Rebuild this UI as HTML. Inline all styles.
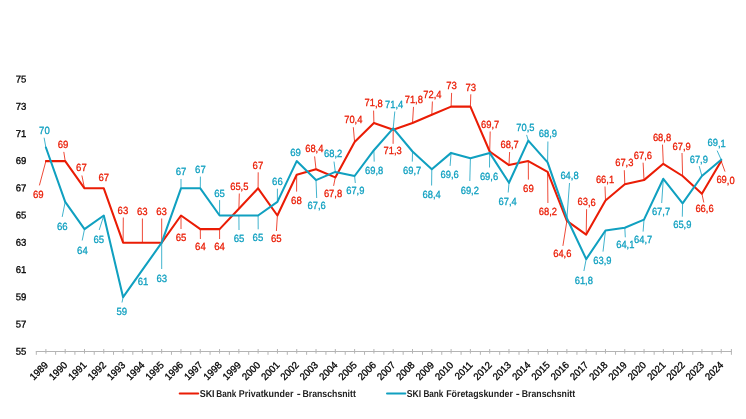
<!DOCTYPE html>
<html><head><meta charset="utf-8"><title>SKI Bank</title>
<style>html,body{margin:0;padding:0;background:#fff}svg{display:block}text{font-family:"Liberation Sans",Arial,sans-serif;text-rendering:geometricPrecision}</style></head><body>
<svg width="746" height="419" viewBox="0 0 746 419">
<rect width="746" height="419" fill="#fff"/>
<g stroke="#b4b4b4" stroke-width="1" fill="none">
<path d="M35.8 351.5H731.9"/>
<path d="M36.30 351.5V354.8M55.61 351.5V354.8M74.92 351.5V354.8M94.22 351.5V354.8M113.53 351.5V354.8M132.84 351.5V354.8M152.15 351.5V354.8M171.46 351.5V354.8M190.77 351.5V354.8M210.07 351.5V354.8M229.38 351.5V354.8M248.69 351.5V354.8M268.00 351.5V354.8M287.31 351.5V354.8M306.62 351.5V354.8M325.93 351.5V354.8M345.23 351.5V354.8M364.54 351.5V354.8M383.85 351.5V354.8M403.16 351.5V354.8M422.47 351.5V354.8M441.78 351.5V354.8M461.08 351.5V354.8M480.39 351.5V354.8M499.70 351.5V354.8M519.01 351.5V354.8M538.32 351.5V354.8M557.62 351.5V354.8M576.93 351.5V354.8M596.24 351.5V354.8M615.55 351.5V354.8M634.86 351.5V354.8M654.17 351.5V354.8M673.47 351.5V354.8M692.78 351.5V354.8M712.09 351.5V354.8M731.40 351.5V354.8M45.90 349.0V353.6M65.19 349.0V353.6M84.49 349.0V353.6M103.78 349.0V353.6M123.08 349.0V353.6M142.38 349.0V353.6M161.67 349.0V353.6M180.97 349.0V353.6M200.26 349.0V353.6M219.56 349.0V353.6M238.85 349.0V353.6M258.14 349.0V353.6M277.44 349.0V353.6M296.74 349.0V353.6M316.03 349.0V353.6M335.32 349.0V353.6M354.62 349.0V353.6M373.92 349.0V353.6M393.21 349.0V353.6M412.50 349.0V353.6M431.80 349.0V353.6M451.10 349.0V353.6M470.39 349.0V353.6M489.69 349.0V353.6M508.98 349.0V353.6M528.28 349.0V353.6M547.57 349.0V353.6M566.87 349.0V353.6M586.16 349.0V353.6M605.46 349.0V353.6M624.75 349.0V353.6M644.05 349.0V353.6M663.34 349.0V353.6M682.63 349.0V353.6M701.93 349.0V353.6M721.23 349.0V353.6M731.40 349V351.5"/></g>
<g font-size="9.95" fill="#000" stroke="#000" stroke-width="0.3" text-anchor="end">
<text transform="translate(26.4 354.65) rotate(0.03) scale(0.96 1)">55</text>
<text transform="translate(26.4 327.43) rotate(0.03) scale(0.96 1)">57</text>
<text transform="translate(26.4 300.21) rotate(0.03) scale(0.96 1)">59</text>
<text transform="translate(26.4 272.99) rotate(0.03) scale(0.96 1)">61</text>
<text transform="translate(26.4 245.77) rotate(0.03) scale(0.96 1)">63</text>
<text transform="translate(26.4 218.55) rotate(0.03) scale(0.96 1)">65</text>
<text transform="translate(26.4 191.33) rotate(0.03) scale(0.96 1)">67</text>
<text transform="translate(26.4 164.11) rotate(0.03) scale(0.96 1)">69</text>
<text transform="translate(26.4 136.89) rotate(0.03) scale(0.96 1)">71</text>
<text transform="translate(26.4 109.67) rotate(0.03) scale(0.96 1)">73</text>
<text transform="translate(26.4 82.45) rotate(0.03) scale(0.96 1)">75</text>
</g>
<g font-size="9.95" fill="#000" stroke="#000" stroke-width="0.3" text-anchor="end">
<text transform="translate(46.3 363.3) rotate(-45) scale(0.96 1)" x="0" y="3.5">1989</text>
<text transform="translate(65.6 363.3) rotate(-45) scale(0.96 1)" x="0" y="3.5">1990</text>
<text transform="translate(84.9 363.3) rotate(-45) scale(0.96 1)" x="0" y="3.5">1991</text>
<text transform="translate(104.2 363.3) rotate(-45) scale(0.96 1)" x="0" y="3.5">1992</text>
<text transform="translate(123.5 363.3) rotate(-45) scale(0.96 1)" x="0" y="3.5">1993</text>
<text transform="translate(142.8 363.3) rotate(-45) scale(0.96 1)" x="0" y="3.5">1994</text>
<text transform="translate(162.1 363.3) rotate(-45) scale(0.96 1)" x="0" y="3.5">1995</text>
<text transform="translate(181.4 363.3) rotate(-45) scale(0.96 1)" x="0" y="3.5">1996</text>
<text transform="translate(200.7 363.3) rotate(-45) scale(0.96 1)" x="0" y="3.5">1997</text>
<text transform="translate(220.0 363.3) rotate(-45) scale(0.96 1)" x="0" y="3.5">1998</text>
<text transform="translate(239.3 363.3) rotate(-45) scale(0.96 1)" x="0" y="3.5">1999</text>
<text transform="translate(258.5 363.3) rotate(-45) scale(0.96 1)" x="0" y="3.5">2000</text>
<text transform="translate(277.8 363.3) rotate(-45) scale(0.96 1)" x="0" y="3.5">2001</text>
<text transform="translate(297.1 363.3) rotate(-45) scale(0.96 1)" x="0" y="3.5">2002</text>
<text transform="translate(316.4 363.3) rotate(-45) scale(0.96 1)" x="0" y="3.5">2003</text>
<text transform="translate(335.7 363.3) rotate(-45) scale(0.96 1)" x="0" y="3.5">2004</text>
<text transform="translate(355.0 363.3) rotate(-45) scale(0.96 1)" x="0" y="3.5">2005</text>
<text transform="translate(374.3 363.3) rotate(-45) scale(0.96 1)" x="0" y="3.5">2006</text>
<text transform="translate(393.6 363.3) rotate(-45) scale(0.96 1)" x="0" y="3.5">2007</text>
<text transform="translate(412.9 363.3) rotate(-45) scale(0.96 1)" x="0" y="3.5">2008</text>
<text transform="translate(432.2 363.3) rotate(-45) scale(0.96 1)" x="0" y="3.5">2009</text>
<text transform="translate(451.5 363.3) rotate(-45) scale(0.96 1)" x="0" y="3.5">2010</text>
<text transform="translate(470.8 363.3) rotate(-45) scale(0.96 1)" x="0" y="3.5">2011</text>
<text transform="translate(490.1 363.3) rotate(-45) scale(0.96 1)" x="0" y="3.5">2012</text>
<text transform="translate(509.4 363.3) rotate(-45) scale(0.96 1)" x="0" y="3.5">2013</text>
<text transform="translate(528.7 363.3) rotate(-45) scale(0.96 1)" x="0" y="3.5">2014</text>
<text transform="translate(548.0 363.3) rotate(-45) scale(0.96 1)" x="0" y="3.5">2015</text>
<text transform="translate(567.3 363.3) rotate(-45) scale(0.96 1)" x="0" y="3.5">2016</text>
<text transform="translate(586.6 363.3) rotate(-45) scale(0.96 1)" x="0" y="3.5">2017</text>
<text transform="translate(605.9 363.3) rotate(-45) scale(0.96 1)" x="0" y="3.5">2018</text>
<text transform="translate(625.1 363.3) rotate(-45) scale(0.96 1)" x="0" y="3.5">2019</text>
<text transform="translate(644.4 363.3) rotate(-45) scale(0.96 1)" x="0" y="3.5">2020</text>
<text transform="translate(663.7 363.3) rotate(-45) scale(0.96 1)" x="0" y="3.5">2021</text>
<text transform="translate(683.0 363.3) rotate(-45) scale(0.96 1)" x="0" y="3.5">2022</text>
<text transform="translate(702.3 363.3) rotate(-45) scale(0.96 1)" x="0" y="3.5">2023</text>
<text transform="translate(721.6 363.3) rotate(-45) scale(0.96 1)" x="0" y="3.5">2024</text>
</g>
<path d="M45.9 161.1L39.4 185.4M65.2 161.1L63.8 151.9M84.5 188.3L81.9 175.5M123.1 242.7L123.3 217.5M142.4 242.7L142.4 218.5M161.7 242.7L161.7 218.5M181.0 215.5L181 229M200.3 229.1L200.4 239M219.6 229.1L219.6 239M238.9 208.7L239.3 193.5M258.1 188.3L258.2 172.3M277.4 215.5L276.4 231M296.7 174.7L296.6 191.6M316.0 169.2L314.6 156.4M335.3 177.4L333.6 185.9M354.6 142.0L353.3 127.2M373.9 123.0L373.6 110.6M393.2 129.8L393.1 143.8M412.5 123.0L413.5 106.9M431.8 114.8L432.4 101.5M451.1 106.6L451.6 92.9M470.4 106.6L470.8 94.3M489.7 151.5L490.2 131.5M509.0 165.1L509.6 152M528.3 161.1L528.4 179.6M547.6 171.9L547.9 203M566.9 220.9L562.9 245.9M586.2 234.6L586.6 209.2M605.5 200.5L605 186.5M624.8 184.2L624.3 170.2M644.0 180.1L643.1 162.7M663.3 163.8L662.5 144.6M682.6 176.0L682 153M701.9 193.7L703.8 202.5M721.2 161.1L725 171.6" stroke="#ea1c05" stroke-width="0.8" fill="none"/>
<path d="M45.9 147.5L44.1 137.7M65.2 201.9L62.2 216.9M84.5 229.1L82.2 240.5M103.8 215.5L99.2 230M123.1 297.2L122 302.5M161.7 242.7L161.7 269M181.0 188.3L181 179M200.3 188.3L200.4 176.6M219.6 215.5L219.6 200.1M238.9 215.5L239 230M258.1 215.5L258.2 229.3M277.4 201.9L277.4 188.7M316.0 180.1L316.7 198M335.3 171.9L334.0 161.6M354.6 176.0L355.3 183M373.9 150.2L374.2 161.6M393.2 128.4L394.8 111.5M412.5 151.5L412.3 161.6M431.8 169.2L431.6 185.5M451.1 152.9L450.1 165.9M470.4 158.3L469.8 181M489.7 152.9L489.5 167.5M509.0 182.8L508.2 192.5M528.3 140.6L526.6 134.9M547.6 162.4L547.9 141.5M566.9 218.2L569.5 183M586.2 259.1L583.9 271M605.5 230.5L603 251.6M624.8 227.7L625.3 237.3M644.0 219.6L643.1 231.6M663.3 178.8L661.7 203M682.6 203.3L682.3 216.7M701.9 176.0L699.2 166.1M721.2 159.7L717.1 150.6" stroke="#10a0c0" stroke-width="0.8" fill="none"/>
<polyline points="45.9,161.1 65.2,161.1 84.5,188.3 103.8,188.3 123.1,242.7 142.4,242.7 161.7,242.7 181.0,215.5 200.3,229.1 219.6,229.1 238.9,208.7 258.1,188.3 277.4,215.5 296.7,174.7 316.0,169.2 335.3,177.4 354.6,142.0 373.9,123.0 393.2,129.8 412.5,123.0 431.8,114.8 451.1,106.6 470.4,106.6 489.7,151.5 509.0,165.1 528.3,161.1 547.6,171.9 566.9,220.9 586.2,234.6 605.5,200.5 624.8,184.2 644.0,180.1 663.3,163.8 682.6,176.0 701.9,193.7 721.2,161.1" stroke="#ea1c05" stroke-width="2.05" fill="none" stroke-linejoin="round" stroke-linecap="round"/>
<polyline points="45.9,147.5 65.2,201.9 84.5,229.1 103.8,215.5 123.1,297.2 142.4,269.9 161.7,242.7 181.0,188.3 200.3,188.3 219.6,215.5 238.9,215.5 258.1,215.5 277.4,201.9 296.7,161.1 316.0,180.1 335.3,171.9 354.6,176.0 373.9,150.2 393.2,128.4 412.5,151.5 431.8,169.2 451.1,152.9 470.4,158.3 489.7,152.9 509.0,182.8 528.3,140.6 547.6,162.4 566.9,218.2 586.2,259.1 605.5,230.5 624.8,227.7 644.0,219.6 663.3,178.8 682.6,203.3 701.9,176.0 721.2,159.7" stroke="#10a0c0" stroke-width="2.05" fill="none" stroke-linejoin="round" stroke-linecap="round"/>
<g font-size="10.4" fill="#ea1c05" stroke="#ea1c05" stroke-width="0.3" text-anchor="middle">
<text transform="translate(38.3 198.00) rotate(0.03) scale(0.92 1)">69</text>
<text transform="translate(63 148.40) rotate(0.03) scale(0.92 1)">69</text>
<text transform="translate(81.4 171.40) rotate(0.03) scale(0.92 1)">67</text>
<text transform="translate(103.7 181.40) rotate(0.03) scale(0.92 1)">67</text>
<text transform="translate(122.9 213.70) rotate(0.03) scale(0.92 1)">63</text>
<text transform="translate(142.3 215.00) rotate(0.03) scale(0.92 1)">63</text>
<text transform="translate(161.6 215.00) rotate(0.03) scale(0.92 1)">63</text>
<text transform="translate(181 240.80) rotate(0.03) scale(0.92 1)">65</text>
<text transform="translate(200.4 250.40) rotate(0.03) scale(0.92 1)">64</text>
<text transform="translate(219.6 250.40) rotate(0.03) scale(0.92 1)">64</text>
<text transform="translate(239.3 190.30) rotate(0.03) scale(0.9 1)">65,5</text>
<text transform="translate(257.9 168.80) rotate(0.03) scale(0.92 1)">67</text>
<text transform="translate(276.3 241.80) rotate(0.03) scale(0.92 1)">65</text>
<text transform="translate(296.4 204.00) rotate(0.03) scale(0.92 1)">68</text>
<text transform="translate(314.3 152.30) rotate(0.03) scale(0.9 1)">68,4</text>
<text transform="translate(333 196.70) rotate(0.03) scale(0.9 1)">67,8</text>
<text transform="translate(353.3 123.40) rotate(0.03) scale(0.9 1)">70,4</text>
<text transform="translate(373.6 106.50) rotate(0.03) scale(0.9 1)">71,8</text>
<text transform="translate(392.7 153.90) rotate(0.03) scale(0.9 1)">71,3</text>
<text transform="translate(413.8 103.00) rotate(0.03) scale(0.9 1)">71,8</text>
<text transform="translate(432.4 97.90) rotate(0.03) scale(0.9 1)">72,4</text>
<text transform="translate(451.6 89.30) rotate(0.03) scale(0.92 1)">73</text>
<text transform="translate(470.8 90.80) rotate(0.03) scale(0.92 1)">73</text>
<text transform="translate(490.2 127.90) rotate(0.03) scale(0.9 1)">69,7</text>
<text transform="translate(509.6 148.30) rotate(0.03) scale(0.9 1)">68,7</text>
<text transform="translate(528.4 191.80) rotate(0.03) scale(0.92 1)">69</text>
<text transform="translate(547.9 214.70) rotate(0.03) scale(0.9 1)">68,2</text>
<text transform="translate(562.3 257.20) rotate(0.03) scale(0.9 1)">64,6</text>
<text transform="translate(586.6 205.50) rotate(0.03) scale(0.9 1)">63,6</text>
<text transform="translate(605 182.60) rotate(0.03) scale(0.9 1)">66,1</text>
<text transform="translate(624.3 166.00) rotate(0.03) scale(0.9 1)">67,3</text>
<text transform="translate(642.9 159.10) rotate(0.03) scale(0.9 1)">67,6</text>
<text transform="translate(662 140.60) rotate(0.03) scale(0.9 1)">68,8</text>
<text transform="translate(681.6 149.90) rotate(0.03) scale(0.9 1)">67,9</text>
<text transform="translate(704.5 212.10) rotate(0.03) scale(0.9 1)">66,6</text>
<text transform="translate(725.5 183.50) rotate(0.03) scale(0.9 1)">69,0</text>
</g>
<g font-size="10.4" fill="#10a0c0" stroke="#10a0c0" stroke-width="0.3" text-anchor="middle">
<text transform="translate(44.4 133.70) rotate(0.03) scale(0.92 1)">70</text>
<text transform="translate(62.2 230.50) rotate(0.03) scale(0.92 1)">66</text>
<text transform="translate(82.4 253.60) rotate(0.03) scale(0.92 1)">64</text>
<text transform="translate(98.7 243.10) rotate(0.03) scale(0.92 1)">65</text>
<text transform="translate(121.8 315.00) rotate(0.03) scale(0.92 1)">59</text>
<text transform="translate(143 284.80) rotate(0.03) scale(0.92 1)">61</text>
<text transform="translate(161.7 281.70) rotate(0.03) scale(0.92 1)">63</text>
<text transform="translate(181 175.10) rotate(0.03) scale(0.92 1)">67</text>
<text transform="translate(200.4 173.40) rotate(0.03) scale(0.92 1)">67</text>
<text transform="translate(219.6 197.10) rotate(0.03) scale(0.92 1)">65</text>
<text transform="translate(239 241.80) rotate(0.03) scale(0.92 1)">65</text>
<text transform="translate(257.9 241.50) rotate(0.03) scale(0.92 1)">65</text>
<text transform="translate(277.4 184.80) rotate(0.03) scale(0.92 1)">66</text>
<text transform="translate(295.6 156.00) rotate(0.03) scale(0.92 1)">69</text>
<text transform="translate(316.7 209.30) rotate(0.03) scale(0.9 1)">67,6</text>
<text transform="translate(333.2 157.20) rotate(0.03) scale(0.9 1)">68,2</text>
<text transform="translate(355.3 194.40) rotate(0.03) scale(0.9 1)">67,9</text>
<text transform="translate(374.2 174.00) rotate(0.03) scale(0.9 1)">69,8</text>
<text transform="translate(394.2 107.60) rotate(0.03) scale(0.9 1)">71,4</text>
<text transform="translate(412.2 174.20) rotate(0.03) scale(0.9 1)">69,7</text>
<text transform="translate(431.6 198.00) rotate(0.03) scale(0.9 1)">68,4</text>
<text transform="translate(449.6 178.40) rotate(0.03) scale(0.9 1)">69,6</text>
<text transform="translate(469.8 193.60) rotate(0.03) scale(0.9 1)">69,2</text>
<text transform="translate(489 179.80) rotate(0.03) scale(0.9 1)">69,6</text>
<text transform="translate(507.7 204.60) rotate(0.03) scale(0.9 1)">67,4</text>
<text transform="translate(525.4 130.80) rotate(0.03) scale(0.9 1)">70,5</text>
<text transform="translate(547.9 137.40) rotate(0.03) scale(0.9 1)">68,9</text>
<text transform="translate(569.5 178.60) rotate(0.03) scale(0.9 1)">64,8</text>
<text transform="translate(583.8 283.60) rotate(0.03) scale(0.9 1)">61,8</text>
<text transform="translate(602.4 263.80) rotate(0.03) scale(0.9 1)">63,9</text>
<text transform="translate(625.3 248.10) rotate(0.03) scale(0.9 1)">64,1</text>
<text transform="translate(643.1 242.90) rotate(0.03) scale(0.9 1)">64,7</text>
<text transform="translate(661 214.60) rotate(0.03) scale(0.9 1)">67,7</text>
<text transform="translate(682.3 228.00) rotate(0.03) scale(0.9 1)">65,9</text>
<text transform="translate(698.8 163.20) rotate(0.03) scale(0.9 1)">67,9</text>
<text transform="translate(716.7 146.50) rotate(0.03) scale(0.9 1)">69,1</text>
</g>
<path d="M179.7 393.5H198.2" stroke="#ea1c05" stroke-width="2" stroke-linecap="round"/>
<path d="M387 393.5H405.3" stroke="#10a0c0" stroke-width="2" stroke-linecap="round"/>
<g font-size="9.9" font-weight="bold" fill="#222">
<text y="396.6"><tspan x="199.7" textLength="14.9" lengthAdjust="spacingAndGlyphs">SKI</tspan> <tspan x="216.3" textLength="20.0" lengthAdjust="spacingAndGlyphs">Bank</tspan> <tspan x="238.8" textLength="54.6" lengthAdjust="spacingAndGlyphs">Privatkunder</tspan> <tspan x="296.7" textLength="4.0" lengthAdjust="spacingAndGlyphs">-</tspan> <tspan x="302.5" textLength="53.3" lengthAdjust="spacingAndGlyphs">Branschsnitt</tspan></text>
<text y="396.6"><tspan x="406.8" textLength="14.4" lengthAdjust="spacingAndGlyphs">SKI</tspan> <tspan x="423.4" textLength="20.0" lengthAdjust="spacingAndGlyphs">Bank</tspan> <tspan x="446.2" textLength="66.7" lengthAdjust="spacingAndGlyphs">Företagskunder</tspan> <tspan x="515.7" textLength="4.0" lengthAdjust="spacingAndGlyphs">-</tspan> <tspan x="521.7" textLength="53.5" lengthAdjust="spacingAndGlyphs">Branschsnitt</tspan></text>
</g>
</svg></body></html>
